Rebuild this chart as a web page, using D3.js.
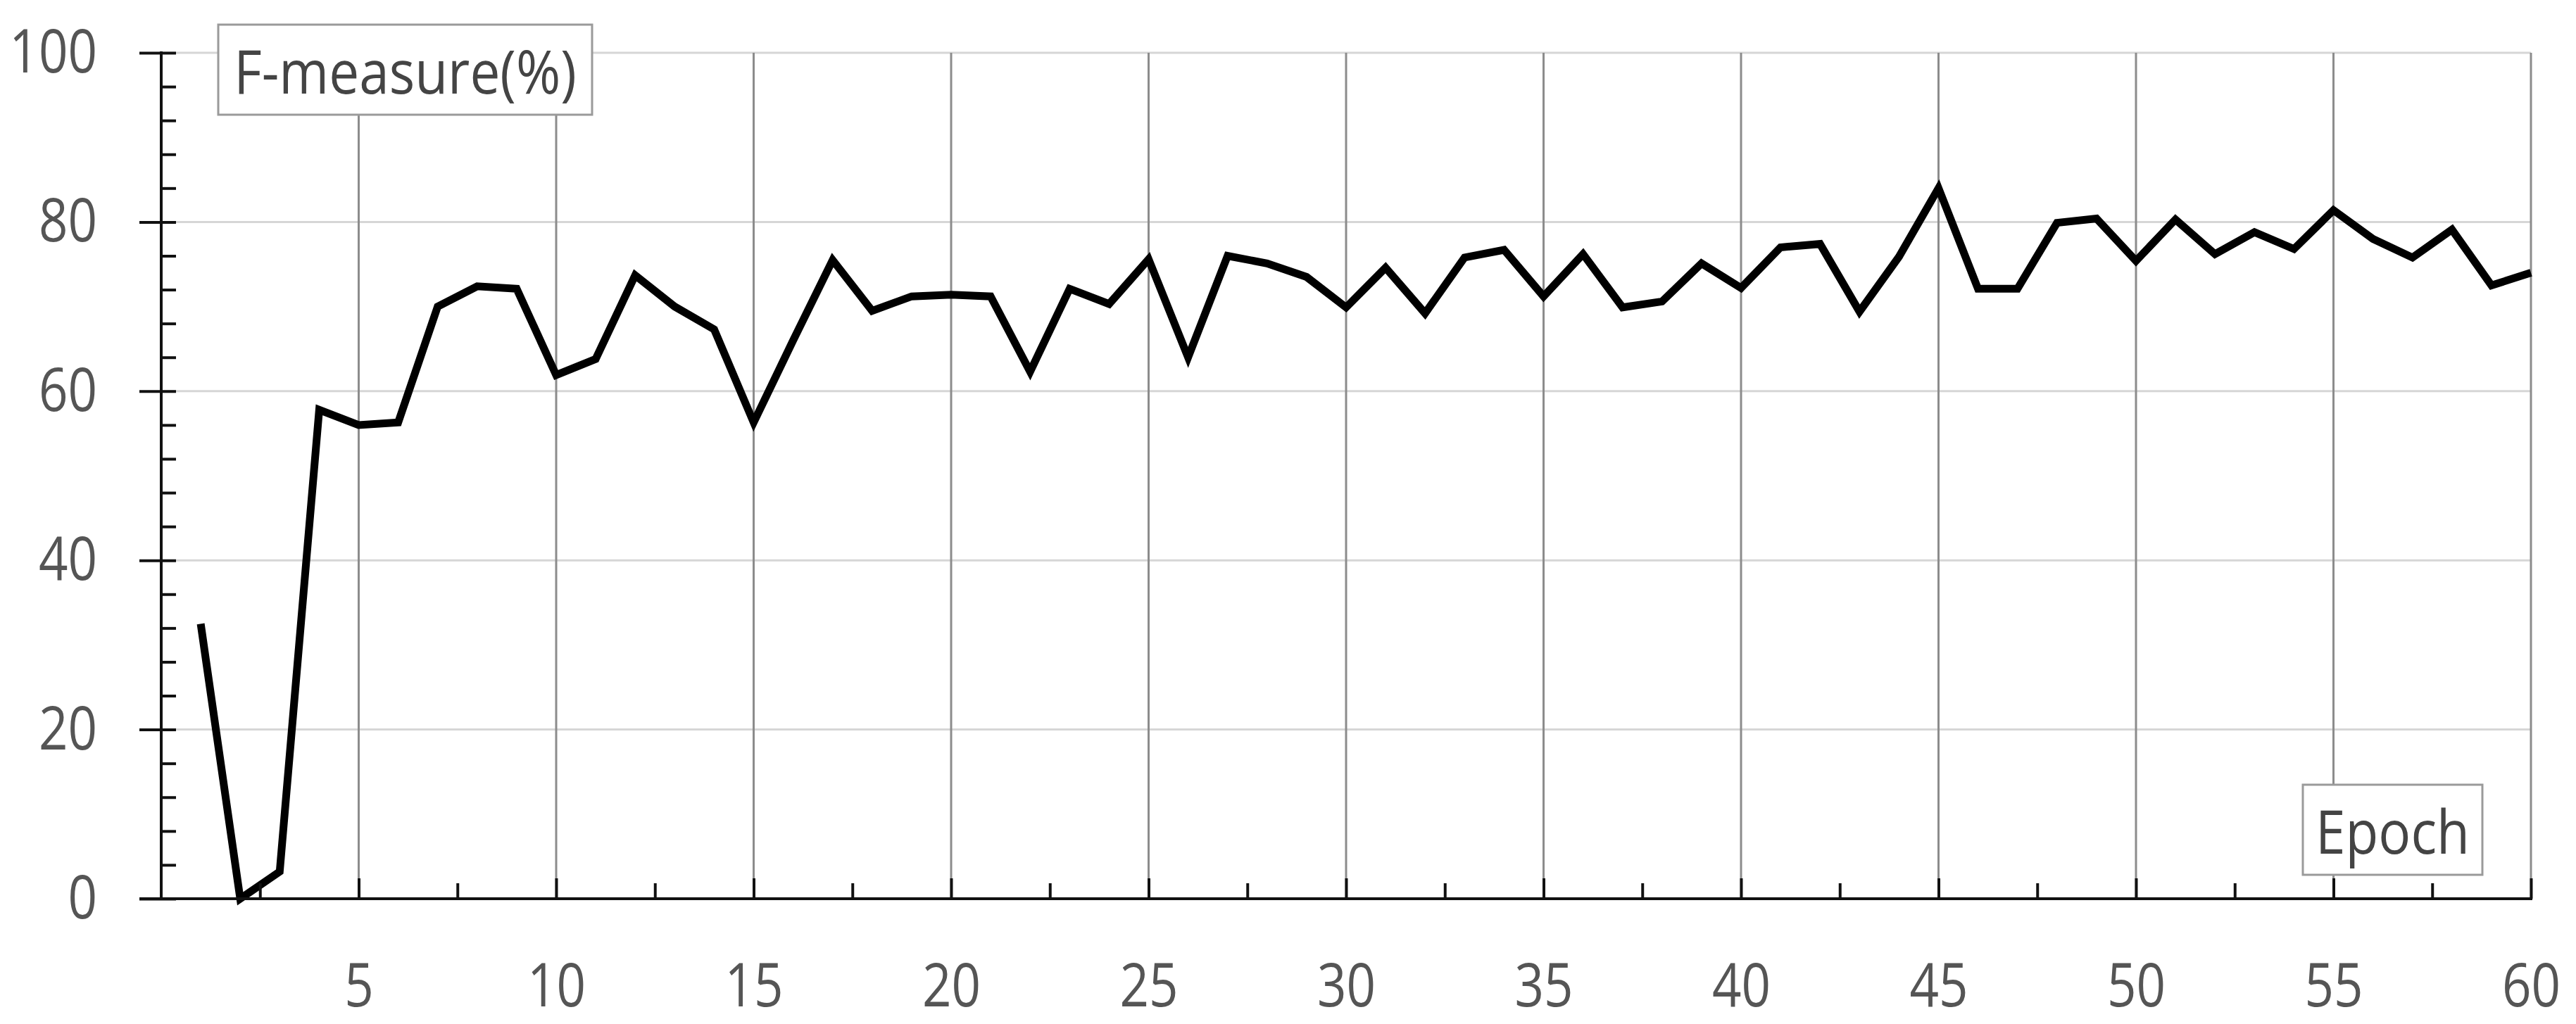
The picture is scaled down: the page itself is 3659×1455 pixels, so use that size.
<!DOCTYPE html>
<html>
<head>
<meta charset="utf-8">
<script src="https://cdn.jsdelivr.net/npm/d3@7"></script>
<style>
    body { margin: 0; background: #fff; }
    svg { display: block; }
</style>
</head>
<body>
<div id="chart"></div>
<script>
const width = 3659;
const height = 1455;

// data
const epochs = d3.range(1, 61);
const fMeasure = [32.5, 0, 3.2, 57.8, 56.0, 56.3, 70.0, 72.4, 72.1, 61.9,
    63.8, 73.7, 70.0, 67.3, 56.3, 66.0, 75.5, 69.5, 71.2, 71.4,
    71.2, 62.3, 72.1, 70.3, 75.6, 64.0, 76.0, 75.1, 73.5, 69.9,
    74.6, 69.2, 75.8, 76.7, 71.2, 76.2, 69.9, 70.6, 75.1, 72.2,
    77.0, 77.4, 69.4, 75.9, 84.0, 72.1, 72.1, 79.9, 80.4, 75.4,
    80.3, 76.2, 78.8, 76.8, 81.4, 78.0, 75.8, 79.1, 72.5, 74.0];
const xTicks = [5, 10, 15, 20, 25, 30, 35, 40, 45, 50, 55, 60];
const xMinor = [2.5, 7.5, 12.5, 17.5, 22.5, 27.5, 32.5, 37.5, 42.5, 47.5, 52.5, 57.5];
const yTicks = [0, 20, 40, 60, 80, 100];
const yMinor = d3.range(0, 101, 4).filter(d => d % 20 !== 0);
const yTitle = "F-measure(%)";
const xTitle = "Epoch";

const fontFamily = '"Open Sans", "Noto Sans", sans-serif';
const fontSize = 86;

const x = d3.scaleLinear().domain([0, 60]).range([229, 3595]);
const y = d3.scaleLinear().domain([0, 100]).range([1277, 75]);

const svg = d3.select("#chart").append("svg")
    .attr("width", width)
    .attr("height", height)
    .style("background", "#fff");

// squeeze glyphs horizontally, the source font is narrower than what we have
function squeeze(sel, k) {
    sel.each(function() {
        const len = this.getComputedTextLength();
        d3.select(this).attr("textLength", len * k).attr("lengthAdjust", "spacingAndGlyphs");
    });
}

// horizontal grid
svg.append("g")
    .selectAll("line")
    .data(yTicks.filter(d => d > 0))
    .join("line")
    .attr("x1", x(0))
    .attr("x2", x(60))
    .attr("y1", d => y(d))
    .attr("y2", d => y(d))
    .attr("stroke", "#d6d6d6")
    .attr("stroke-width", 3);

// vertical grid
svg.append("g")
    .selectAll("line")
    .data(xTicks)
    .join("line")
    .attr("x1", d => x(d))
    .attr("x2", d => x(d))
    .attr("y1", y(0))
    .attr("y2", y(100))
    .attr("stroke", "#8c8c8c")
    .attr("stroke-width", 3);

// the series
const line = d3.line()
    .x((d, i) => x(epochs[i]))
    .y(d => y(d));

svg.append("path")
    .datum(fMeasure)
    .attr("d", line)
    .attr("fill", "none")
    .attr("stroke", "#000")
    .attr("stroke-width", 11)
    .attr("stroke-linejoin", "miter")
    .attr("stroke-miterlimit", 3);

// y axis
const yAxis = svg.append("g")
    .attr("transform", `translate(${x(0)},0)`)
    .call(d3.axisLeft(y).tickValues(yTicks).tickSize(31).tickPadding(60).tickSizeOuter(0))
    .attr("font-family", fontFamily)
    .attr("font-size", fontSize);
yAxis.select(".domain").remove();
yAxis.selectAll(".tick line").attr("x1", 21).attr("stroke", "#111").attr("stroke-width", 4);
yAxis.selectAll(".tick text").attr("fill", "#555").call(squeeze, 0.845);

const yMinorAxis = svg.append("g")
    .attr("transform", `translate(${x(0)},0)`)
    .call(d3.axisLeft(y).tickValues(yMinor).tickSize(-21).tickFormat("").tickSizeOuter(0));
yMinorAxis.select(".domain").remove();
yMinorAxis.selectAll(".tick line").attr("stroke", "#111").attr("stroke-width", 4);

svg.append("line")
    .attr("x1", x(0)).attr("x2", x(0))
    .attr("y1", y(0) + 2).attr("y2", y(100) - 2)
    .attr("stroke", "#111")
    .attr("stroke-width", 4);

// x axis
const xAxis = svg.append("g")
    .attr("transform", `translate(0,${y(0)})`)
    .call(d3.axisBottom(x).tickValues(xTicks).tickSize(-29).tickPadding(92).tickSizeOuter(0))
    .attr("font-family", fontFamily)
    .attr("font-size", fontSize);
xAxis.select(".domain").remove();
xAxis.selectAll(".tick line").attr("stroke", "#111").attr("stroke-width", 4);
xAxis.selectAll(".tick text").attr("fill", "#555").call(squeeze, 0.845);

const xMinorAxis = svg.append("g")
    .attr("transform", `translate(0,${y(0)})`)
    .call(d3.axisBottom(x).tickValues(xMinor).tickSize(-22).tickFormat("").tickSizeOuter(0));
xMinorAxis.select(".domain").remove();
xMinorAxis.selectAll(".tick line").attr("stroke", "#111").attr("stroke-width", 4);

svg.append("line")
    .attr("x1", x(0) - 31).attr("x2", x(60) + 2)
    .attr("y1", y(0)).attr("y2", y(0))
    .attr("stroke", "#111")
    .attr("stroke-width", 4);

// title boxes
const boxes = [
    { label: yTitle, x: 310, y: 35, w: 531, h: 128 },
    { label: xTitle, x: 3271, y: 1115, w: 255, h: 128 }
];

const box = svg.append("g")
    .selectAll("g")
    .data(boxes)
    .join("g");

box.append("rect")
    .attr("x", d => d.x)
    .attr("y", d => d.y)
    .attr("width", d => d.w)
    .attr("height", d => d.h)
    .attr("fill", "#fff")
    .attr("stroke", "#9a9a9a")
    .attr("stroke-width", 3);

box.append("text")
    .attr("x", d => d.x + d.w / 2)
    .attr("y", d => d.y + 98)
    .attr("text-anchor", "middle")
    .attr("font-family", fontFamily)
    .attr("font-size", fontSize)
    .attr("fill", "#444")
    .text(d => d.label)
    .call(squeeze, 0.89);
</script>
</body>
</html>
